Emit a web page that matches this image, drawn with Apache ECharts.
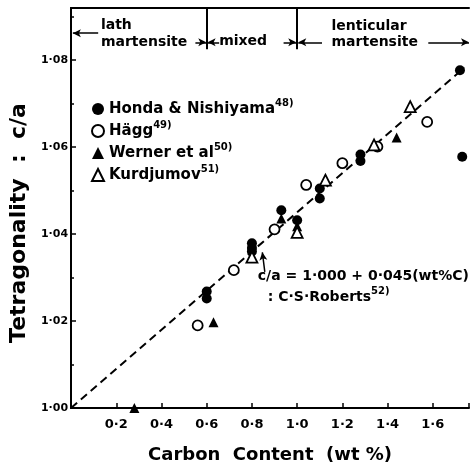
<!DOCTYPE html>
<html>
<head>
<meta charset="utf-8">
<script src="https://cdn.jsdelivr.net/npm/echarts@6/dist/echarts.min.js"></script>
<style>
html,body{margin:0;padding:0;background:#fff}
#chart{width:472px;height:470px}
</style>
</head>
<body>
<div id="chart"></div>
<script>
// measured points (carbon wt%, c/a)
var honda = [[0.6,1.0268],[0.6,1.0252],[0.8,1.0379],[0.8,1.0368],[0.8,1.036],
    [0.93,1.0455],[1.0,1.0432],[1.1,1.0505],[1.1,1.0482],[1.28,1.0583],[1.28,1.0568],
    [1.72,1.0777],[1.73,1.0578]];
var hagg = [[0.56,1.019],[0.72,1.0317],[0.9,1.0411],[1.04,1.0513],[1.2,1.0563],[1.355,1.0601],[1.575,1.0658]];
var werner = [[0.28,1.000],[0.63,1.0197],[0.93,1.0436],[1.0,1.0418],[1.44,1.0622]];
var kurdjumov = [[0.8,1.0347],[1.0,1.0404],[1.125,1.0524],[1.34,1.0605],[1.5,1.0693]];
var refs = {'Honda & Nishiyama':'48)','Hägg':'49)','Werner et al':'50)','Kurdjumov':'51)'};

// c/a = 1.000 + 0.045 (wt%C), C.S. Roberts
var fitLine = [[0,1.000],[1.74,1.0783]];

// structure zones along the top
var zoneBounds = [0.6, 1.0];
var zoneArrows = [
    [[0.12,1.0862],[0.008,1.0862]],
    [[0.55,1.0841],[0.598,1.0841]],
    [[0.655,1.0841],[0.604,1.0841]],
    [[0.94,1.0841],[0.996,1.0841]],
    [[1.11,1.0841],[1.005,1.0841]],
    [[1.58,1.0841],[1.76,1.0841]]
];
var notes = [
    {value:[0.132,1.0881], text:'lath'},
    {value:[0.132,1.0842], text:'martensite'},
    {value:[0.655,1.0844], text:'mixed'},
    {value:[1.152,1.0877], text:'lenticular'},
    {value:[1.152,1.0842], text:'martensite'},
    {value:[0.826,1.0303], text:'c/a = 1·000 + 0·045(wt%C)'},
    {value:[0.87,1.0255], text:': C·S·Roberts{s|52)}'}
];
var pointer = [[0.857,1.0313],[0.846,1.0358]];

var FONT = 'DejaVu Sans';
var myChart = echarts.init(document.getElementById('chart'));

function dot(v, d) { return v.toFixed(d).replace('.', '·'); }

var openStyle = {color:'#fff', borderColor:'#000', borderWidth:1.8, opacity:1};
var solidStyle = {color:'#000', opacity:1};
var supStyle = {fontSize:10, fontFamily:FONT, fontWeight:'bold', color:'#000', lineHeight:10, verticalAlign:'top'};

var option = {
    animation: false,
    backgroundColor: '#fff',
    grid: {left:70, right:2, top:8, bottom:62},
    legend: {
        orient:'vertical', left:91, top:98, padding:0,
        itemWidth:12, itemHeight:12, itemGap:3.5,
        data:['Honda & Nishiyama','Hägg','Werner et al','Kurdjumov'],
        formatter:function(name){ return '{n|' + name + '}{s|' + refs[name] + '}'; },
        textStyle:{
            rich:{
                n:{fontSize:15, fontFamily:FONT, fontWeight:'bold', color:'#000', lineHeight:22},
                s:supStyle
            }
        }
    },
    xAxis: [{
        type:'value', min:0, max:1.76, interval:0.2,
        name:'Carbon  Content  (wt %)', nameLocation:'middle', nameGap:38,
        nameTextStyle:{fontSize:18, fontWeight:'bold', fontFamily:FONT, color:'#000'},
        axisLine:{lineStyle:{color:'#000', width:2}},
        axisTick:{inside:true, length:5, lineStyle:{color:'#000', width:1.5}},
        splitLine:{show:false},
        axisLabel:{
            fontSize:13, fontWeight:'bold', fontFamily:FONT, color:'#000', margin:10,
            formatter:function(v){ return (v < 0.1 || v > 1.7) ? '' : dot(v, 1); }
        }
    }, {
        type:'value', min:0, max:1.76, position:'top',
        axisLine:{lineStyle:{color:'#000', width:2}},
        axisTick:{show:false}, axisLabel:{show:false}, splitLine:{show:false}
    }],
    yAxis: [{
        type:'value', min:1.0, max:1.092, interval:0.02,
        name:'Tetragonality  :  c/a', nameLocation:'middle', nameGap:35,
        nameTextStyle:{fontSize:22, fontWeight:'bold', fontFamily:FONT, color:'#000', padding:[0,30,0,0]},
        axisLine:{lineStyle:{color:'#000', width:2}},
        axisTick:{inside:true, length:5, lineStyle:{color:'#000', width:1.5}},
        minorTick:{show:true, splitNumber:2, length:3, lineStyle:{color:'#000', width:1.5}},
        splitLine:{show:false},
        axisLabel:{
            fontSize:11, fontWeight:'bold', fontFamily:FONT, color:'#000', margin:3,
            formatter:function(v){ return v > 1.085 ? '' : dot(v, 2); }
        }
    }, {
        type:'value', min:1.0, max:1.092, position:'right',
        axisLine:{show:true, lineStyle:{color:'#000', width:2}},
        axisTick:{show:false}, axisLabel:{show:false}, splitLine:{show:false}
    }],
    series: [{
        name:'fit', type:'line', data:fitLine, showSymbol:false, silent:true, z:1,
        lineStyle:{color:'#000', width:2, type:[8,5]},
        markLine:{
            silent:true, symbol:['none','none'], label:{show:false},
            lineStyle:{color:'#000', width:2, type:'solid'},
            data: zoneBounds.map(function(b){ return [{coord:[b,1.0825]},{coord:[b,1.092]}]; })
        }
    }, {
        name:'arrows', type:'line', data:[], silent:true,
        markLine:{
            silent:true, symbol:['none','arrow'], symbolSize:[6,8], label:{show:false},
            lineStyle:{color:'#000', width:1.5, type:'solid'},
            data: zoneArrows.concat([pointer]).map(function(a){ return [{coord:a[0]},{coord:a[1]}]; })
        }
    }, {
        name:'Honda & Nishiyama', type:'scatter', data:honda, symbol:'circle', symbolSize:10,
        itemStyle:solidStyle, z:3
    }, {
        name:'Hägg', type:'scatter', data:hagg, symbol:'circle', symbolSize:10,
        itemStyle:openStyle, z:4
    }, {
        name:'Werner et al', type:'scatter', data:werner, symbol:'triangle', symbolSize:10,
        itemStyle:solidStyle, z:3
    }, {
        name:'Kurdjumov', type:'scatter', data:kurdjumov, symbol:'triangle', symbolSize:11,
        itemStyle:openStyle, z:4
    }, {
        name:'notes', type:'scatter', data:notes, symbolSize:0, silent:true,
        itemStyle:{opacity:1},
        label:{
            show:true, position:'right', distance:0, opacity:1,
            fontSize:14, fontWeight:'bold', fontFamily:FONT, color:'#000', lineHeight:22,
            formatter:function(p){ return p.data.text; },
            rich:{s:supStyle}
        }
    }]
};
myChart.setOption(option);
window.addEventListener('resize', function(){ myChart.resize(); });
</script>
</body>
</html>
